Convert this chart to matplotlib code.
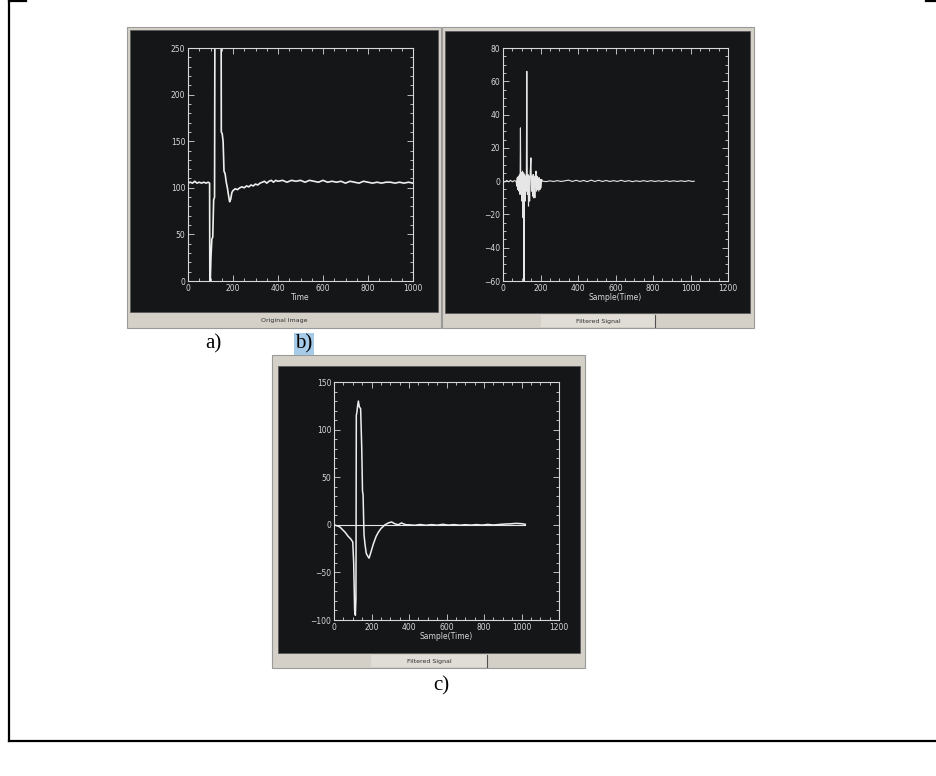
import matplotlib
matplotlib.use("Agg")
import matplotlib.pyplot as plt
from matplotlib.patches import Rectangle
from matplotlib.lines import Line2D
from matplotlib.ticker import MultipleLocator, AutoMinorLocator

W, H = 936, 776

# a) raw trace
time_a = [0, 10, 20, 30, 40, 50, 60, 70, 80, 90, 96, 97, 99, 102, 106, 110, 114, 118, 120,
          147, 148, 152, 156, 160, 165, 170, 175, 180, 185, 190, 195, 200, 210, 220, 230, 240,
          250, 260, 270, 280, 290, 300, 310, 320, 330, 340, 350, 360, 370, 380, 390, 400,
          420, 440, 460, 480, 500, 520, 540, 560, 580, 600, 620, 640, 660, 680, 700, 720,
          740, 760, 780, 800, 820, 840, 860, 880, 900, 920, 940, 960, 980, 1000]
value_a = [105, 106, 105, 107, 105, 106, 105, 106, 105, 106, 105, 0, 0, 25, 45, 47, 87, 90, 320,
           320, 160, 158, 150, 118, 115, 106, 100, 92, 85, 88, 95, 97, 99, 98, 100, 101,
           100, 102, 101, 103, 102, 104, 103, 105, 106, 107, 105, 107, 108, 106, 108, 107,
           108, 106, 108, 107, 108, 106, 108, 107, 106, 108, 106, 107, 106, 107, 105, 107,
           106, 105, 107, 106, 105, 106, 105, 106, 106, 105, 106, 105, 106, 105]

# b) filtered signal
sample_b = [0, 10, 20, 30, 40, 50, 60, 70, 73, 76, 79, 82, 85, 88, 91, 93, 95, 98, 101, 104,
            107, 110, 112, 115, 118, 121, 124, 127, 130, 133, 136, 139, 142, 145, 149, 152,
            155, 158, 161, 164, 167, 170, 173, 176, 179, 182, 185, 188, 191, 194, 197, 200,
            203, 206, 210, 230, 250, 270, 290, 310, 330, 350, 370, 390, 410, 430, 450, 470,
            490, 510, 530, 550, 570, 590, 610, 630, 650, 670, 690, 710, 730, 750, 770, 790,
            810, 830, 850, 870, 890, 910, 930, 950, 970, 990, 1010, 1020]
filtered_b = [0, -0.5, 0.4, -0.4, 0.5, -0.4, 0.3, 0, -3, 2, -5, 3, -6, 4, -8, 32, -4, 5, -12, 6,
              -22, 5, -60, 4, -12, 3, -6, 66, -8, 4, -15, 3, -12, 5, 14, -6, 3,
              -9, 4, -10, 3, -10, 2, 6, -6, 3, -5, 2, -6, 2, -5, 1,
              -4, 1, 0, -0.3, 0.2, -0.2, 0.3, -0.2, 0.2, 0.6, -0.2, 0.5, -0.2, 0.4, -0.3, 0.6,
              -0.2, 0.5, -0.2, 0.4, -0.2, 0.3, -0.2, 0.5, -0.2, 0.3, -0.3, 0.2, -0.2, 0.3, -0.2, 0.3,
              -0.2, 0.2, -0.2, 0.3, -0.2, 0.2, -0.2, 0.2, -0.2, 0.3, -0.2, 0]

# c) filtered signal, smoother filter
sample_c = [0, 15, 30, 45, 60, 75, 90, 100, 105, 110, 114, 117, 119, 122, 126, 130, 135, 142,
            148, 152, 155, 160, 165, 172, 180, 187, 195, 210, 225, 236, 250, 272, 290, 307,
            325, 343, 360, 370, 385, 400, 430, 460, 490, 520, 550, 580, 610, 640, 670, 700,
            730, 760, 790, 820, 850, 880, 910, 940, 970, 1000, 1020]
filtered_c = [0, -1, -2, -5, -8, -12, -15, -18, -40, -90, -95, -77, 115, 118, 125, 130, 124, 122,
              80, 35, 32, -10, -20, -30, -33, -35, -30, -20, -12, -8, -4, 0, 2, 3,
              1, 0, 2, 1, 0, 0, -0.5, 0.3, -0.5, 0.2, -0.4, 0.5, -0.3, 0.2, -0.4, 0.1,
              -0.3, 0.2, -0.3, 0.4, -0.2, 0.3, 0.8, 1.0, 1.5, 1.2, 0.5]

WIN = "#d4d0c8"
DARK = "#151617"
FG = "#d8d8d8"


def box(x0, y0, x1, y1):
    return [x0 / W, 1 - y1 / H, (x1 - x0) / W, (y1 - y0) / H]


def rect(fig, x0, y0, x1, y1, fc, ec="none", lw=0.0):
    fig.add_artist(Rectangle((x0 / W, 1 - y1 / H), (x1 - x0) / W, (y1 - y0) / H,
                             transform=fig.transFigure, facecolor=fc, edgecolor=ec,
                             linewidth=lw, zorder=-2))


def line(fig, xs, ys, color="black", lw=1.5):
    fig.add_artist(Line2D([x / W for x in xs], [1 - y / H for y in ys],
                          transform=fig.transFigure, color=color, linewidth=lw, zorder=-1))


def window(fig, outer, inner, status, sub=None):
    rect(fig, *outer, fc=WIN, ec="#9a9a9a", lw=0.8)
    rect(fig, *inner, fc=DARK, ec="#5a5a5a", lw=0.6)
    x0, x1 = outer[0], outer[2]
    y0, y1 = inner[3] + 1, outer[3]
    if sub is not None:
        sx0, sx1 = sub
        rect(fig, sx0, y0 + 1, sx1, y1 - 1, fc="#e0ddd6")
        line(fig, [sx1, sx1], [y0 + 1, y1 - 1], color="#505050", lw=0.8)
        cx = (sx0 + sx1) / 2
    else:
        cx = (x0 + x1) / 2
    fig.text(cx / W, 1 - ((y0 + y1) / 2) / H, status, fontsize=4.5, color="#303030",
             ha="center", va="center")


def styled_axes(fig, pos, xlim, ylim, xmajor, ymajor, xminor, yminor, xlabel):
    ax = fig.add_axes(box(*pos))
    ax.set_zorder(2)
    ax.set_facecolor(DARK)
    ax.set_xlim(*xlim)
    ax.set_ylim(*ylim)
    ax.xaxis.set_major_locator(MultipleLocator(xmajor))
    ax.yaxis.set_major_locator(MultipleLocator(ymajor))
    ax.xaxis.set_minor_locator(AutoMinorLocator(xminor))
    ax.yaxis.set_minor_locator(AutoMinorLocator(yminor))
    ax.tick_params(which="both", direction="in", top=True, right=True, color=FG,
                   labelcolor=FG, labelsize=5.5, width=0.6, pad=2)
    ax.tick_params(which="major", length=4)
    ax.tick_params(which="minor", length=2)
    for s in ax.spines.values():
        s.set_color(FG)
        s.set_linewidth(0.8)
    ax.set_xlabel(xlabel, fontsize=5.5, color=FG, labelpad=0)
    return ax


fig = plt.figure(figsize=(W / 100, H / 100), dpi=100)
fig.patch.set_facecolor("white")

# page frame
line(fig, [9, 9], [0, 741], lw=1.6)
line(fig, [9, 936], [741, 741], lw=1.6)
line(fig, [9, 26], [1, 1], lw=1.6)
line(fig, [926, 936], [1, 1], lw=1.6)

# windows
window(fig, (127, 27, 441, 328), (130, 30, 438, 312), "Original Image")
window(fig, (442, 27, 754, 328), (445, 31, 750, 313), "Filtered Signal", sub=(541, 655))
window(fig, (272, 355, 585, 668), (278, 366, 580, 653), "Filtered Signal", sub=(371, 487))

ax_a = styled_axes(fig, (188, 48, 413, 281), (0, 1000), (0, 250), 200, 50, 4, 5, "Time")
ax_a.plot(time_a, value_a, color="#eeeeee", lw=1.2)

ax_b = styled_axes(fig, (503, 48, 728, 281), (0, 1200), (-60, 80), 200, 20, 4, 4, "Sample(Time)")
ax_b.plot(sample_b, filtered_b, color="#e6e6e6", lw=0.8)

ax_c = styled_axes(fig, (334, 382, 559, 620), (0, 1200), (-100, 150), 200, 50, 4, 5, "Sample(Time)")
ax_c.plot([0, sample_c[-1]], [0, 0], color="#e6e6e6", lw=0.8)
ax_c.plot(sample_c, filtered_c, color="#eeeeee", lw=1.1)

# sub-figure labels
serif = ["Liberation Serif", "DejaVu Serif"]
fig.text(213 / W, 1 - 344 / H, "a)", fontsize=15, family=serif, ha="center", va="center")
fig.text(304 / W, 1 - 344 / H, "b)", fontsize=15, family=serif, ha="center", va="center",
         bbox=dict(boxstyle="square,pad=0.05", facecolor="#a6cbe8", edgecolor="none"))
fig.text(441 / W, 1 - 686 / H, "c)", fontsize=15, family=serif, ha="center", va="center")

fig.savefig("out.png", dpi=100, facecolor="white")
